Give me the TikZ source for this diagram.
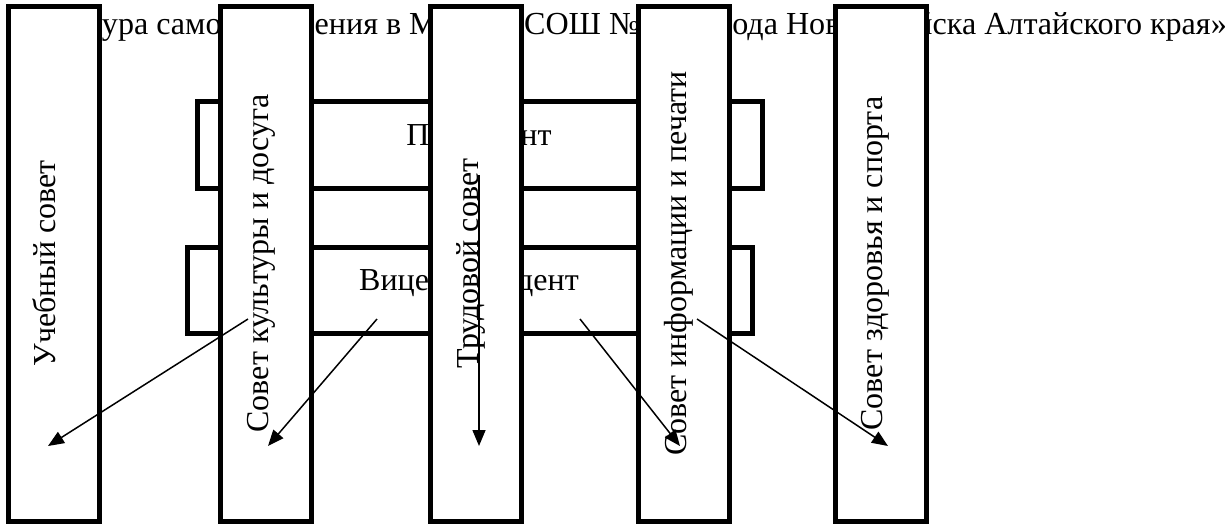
\documentclass[tikz,border=0pt]{standalone}
\usepackage{fontspec}
\setmainfont{Liberation Serif}
\usetikzlibrary{arrows.meta}
\begin{document}
\begin{tikzpicture}[x=1pt,y=-1pt,
  txt/.style={font=\fontsize{32}{38}\selectfont, inner sep=0pt},
  vbox/.style={draw, line width=5pt, fill=white, minimum width=91pt, minimum height=515pt, inner sep=0pt},
  vtxt/.style={txt, rotate=90, anchor=base},
  hbox/.style={draw, line width=5pt, fill=white, inner sep=0pt},
  arr/.style={line width=1.5pt, -{Triangle[length=16pt,width=13pt]}}]
\useasboundingbox (0,0) rectangle (1229,528);
% title
\node[txt, font=\fontsize{32.1}{38}\selectfont, anchor=base east] (title) at (1227,34) {Структура самоуправления в МБОУ «СОШ № 1» города Новоалтайска Алтайского края»};
% horizontal boxes
\node[hbox, minimum width=565pt, minimum height=87pt] (pres) at (479.5,144.5) {};
\node[txt, anchor=base] (prest) at (479,145) {Президент};
\node[hbox, minimum width=565pt, minimum height=86pt] (vice) at (469.5,290) {};
\node[txt, anchor=base] (vicet) at (469,290) {Вице-президент};
% vertical boxes
\node[vbox] (b1) at (53.5,263.5) {};
\node[vtxt] (t1) at (55,263.5) {Учебный совет};
\node[vbox] (b2) at (266,263.5) {};
\node[vtxt] (t2) at (268,263.5) {Совет культуры и досуга};
\node[vbox] (b3) at (475.5,263.5) {};
\node[vtxt] (t3) at (478,263.5) {Трудовой совет};
\node[vbox] (b4) at (684,263.5) {};
\node[vtxt] (t4) at (686,263.5) {Совет информации и печати};
\node[vbox] (b5) at (880.5,263.5) {};
\node[vtxt] (t5) at (882,263.5) {Совет здоровья и спорта};
% arrow ends
\coordinate (s1) at (248,319);
\coordinate (s2) at (377,319);
\coordinate (s3) at (479,175);
\coordinate (s4) at (580,319);
\coordinate (s5) at (697,319);
\coordinate (e1) at (48,446);
\coordinate (e2) at (268,446);
\coordinate (e3) at (479,446);
\coordinate (e4) at (680,446);
\coordinate (e5) at (888,446);
\draw[arr] (s1) -- (e1);
\draw[arr] (s2) -- (e2);
\draw[arr] (s3) -- (e3);
\draw[arr] (s4) -- (e4);
\draw[arr] (s5) -- (e5);
\end{tikzpicture}
\end{document}
